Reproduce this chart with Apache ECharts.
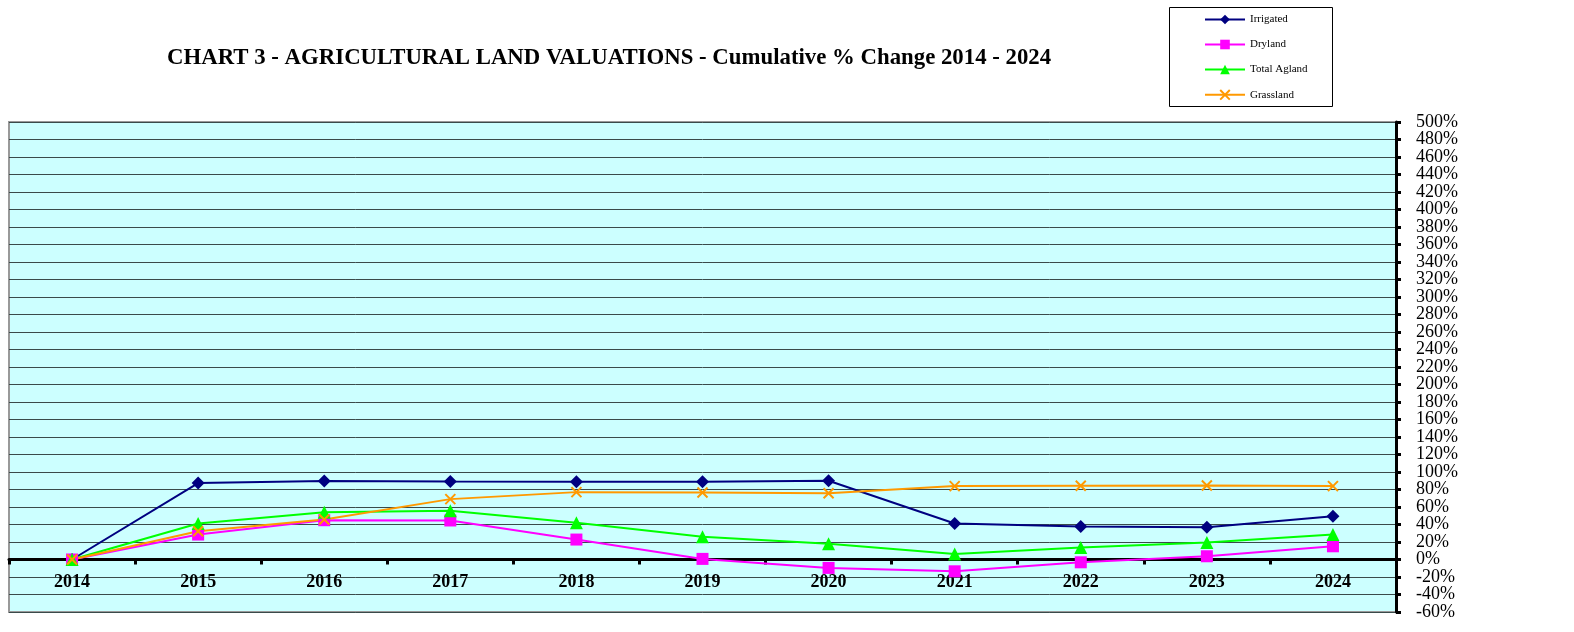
<!DOCTYPE html>
<html>
<head>
<meta charset="utf-8">
<script src="https://cdn.jsdelivr.net/npm/echarts@6/dist/echarts.min.js"></script>
<style>
  html, body { margin: 0; padding: 0; background: #fff; }
  #chart { width: 1574px; height: 632px; }
</style>
</head>
<body>
<div id="chart"></div>
<script>
// 数据
const years = ['2014', '2015', '2016', '2017', '2018', '2019', '2020', '2021', '2022', '2023', '2024'];
const irrigated = [0, 87.3, 89.6, 89.2, 88.9, 88.9, 90.0, 41.1, 37.7, 36.9, 49.5];
const dryland = [0, 28.5, 44.9, 44.6, 22.8, 0.7, -9.6, -13.5, -3.2, 3.7, 15.1];
const totalAgland = [0, 41.1, 54.0, 55.6, 41.9, 25.9, 17.9, 6.4, 13.6, 19.4, 28.5];
const grassland = [0, 32.3, 45.7, 69.0, 77.0, 76.6, 75.8, 83.9, 84.3, 84.6, 83.9];
// 纵轴标签（分两组，避免被自动隐藏）
const yTicksOdd = [-60, -20, 20, 60, 100, 140, 180, 220, 260, 300, 340, 380, 420, 460, 500];
const yTicksEven = [-40, 0, 40, 80, 120, 160, 200, 240, 280, 320, 360, 400, 440, 480];

const serif = '"Liberation Serif", "Times New Roman", serif';
const chart = echarts.init(document.getElementById('chart'));

function lineSeries(name, data, color, symbol, size) {
  return {
    name: name,
    type: 'line',
    data: data,
    symbol: symbol,
    symbolSize: size,
    showAllSymbol: true,
    lineStyle: {color: color, width: 2},
    itemStyle: {color: color, borderColor: color, borderWidth: symbol.startsWith('path') ? 2 : 0},
    emphasis: {disabled: true},
    z: 3
  };
}

const yLabelStyle = {fontFamily: serif, fontSize: 18, color: '#000', margin: 20, formatter: '{value}%'};

let option = {
  animation: false,
  title: {
    text: 'CHART 3 - AGRICULTURAL LAND VALUATIONS - Cumulative % Change 2014 - 2024',
    left: 162,
    top: 42,
    textStyle: {fontFamily: serif, fontWeight: 'bold', fontSize: 22.8, color: '#000'}
  },
  graphic: [{
    type: 'rect',
    shape: {x: 1169.5, y: 7.5, width: 163, height: 99},
    style: {fill: '#fff', stroke: '#000', lineWidth: 1},
    z: 0
  }],
  legend: {
    orient: 'vertical',
    left: 1199,
    top: 9,
    itemGap: 14,
    itemWidth: 40,
    itemHeight: 12,
    data: ['Irrigated', 'Dryland', 'Total Agland', 'Grassland'],
    textStyle: {fontFamily: serif, fontSize: 11, color: '#000'}
  },
  grid: {
    left: 9,
    right: 178,
    top: 122,
    bottom: 20,
    outerBoundsMode: 'none',
    show: true,
    backgroundColor: '#ccffff',
    borderColor: '#999',
    borderWidth: 2
  },
  xAxis: {
    type: 'category',
    data: years,
    boundaryGap: true,
    position: 'bottom',
    offset: -52.5,
    axisLine: {onZero: false, lineStyle: {color: '#000', width: 3}},
    axisTick: {show: true, length: 5, lineStyle: {color: '#000', width: 3}},
    axisLabel: {fontFamily: serif, fontWeight: 'bold', fontSize: 18, color: '#000', margin: 14},
    splitLine: {show: false},
    z: 2
  },
  yAxis: [{
    type: 'value',
    position: 'right',
    min: -60,
    max: 500,
    interval: 20,
    axisLine: {show: true, lineStyle: {color: '#000', width: 3}},
    axisTick: {show: true, length: 5, lineStyle: {color: '#000', width: 3}},
    axisLabel: Object.assign({customValues: yTicksOdd}, yLabelStyle),
    splitLine: {lineStyle: {color: '#3a4a4a', width: 1}}
  }, {
    type: 'value',
    position: 'right',
    offset: 0,
    min: -60,
    max: 500,
    interval: 20,
    axisLine: {show: false},
    axisTick: {show: false},
    axisLabel: Object.assign({customValues: yTicksEven}, yLabelStyle),
    splitLine: {show: false}
  }],
  series: [
    lineSeries('Irrigated', irrigated, '#000080', 'diamond', 13),
    lineSeries('Dryland', dryland, '#ff00ff', 'rect', 12),
    lineSeries('Total Agland', totalAgland, '#00ff00', 'triangle', 13),
    lineSeries('Grassland', grassland, '#ff9900', 'path://M0,0L10,10M10,0L0,10', 10)
  ]
};

chart.setOption(option);
</script>
</body>
</html>
